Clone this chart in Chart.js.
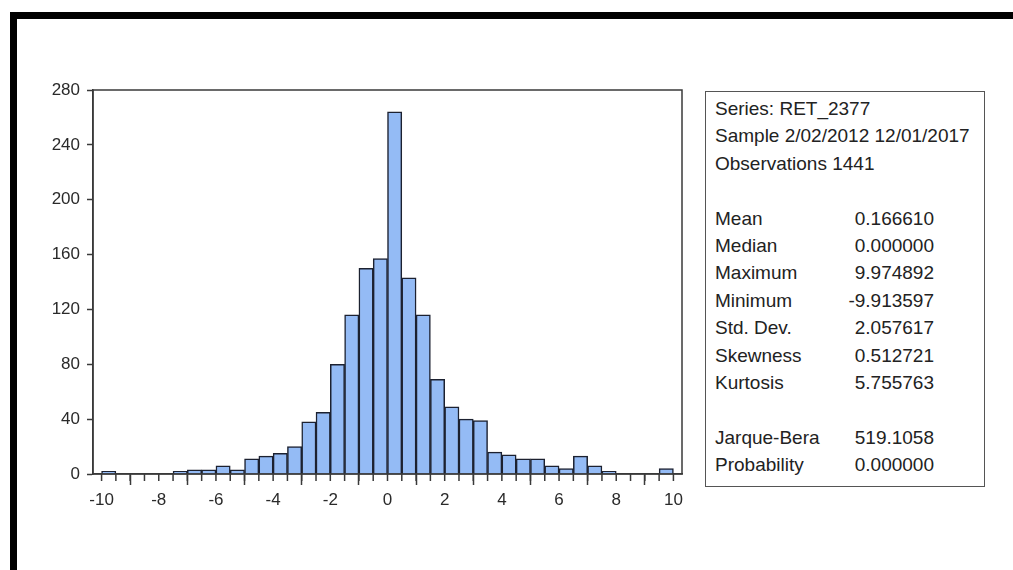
<!DOCTYPE html>
<html>
<head>
<meta charset="utf-8">
<script src="https://cdn.jsdelivr.net/npm/chart.js@4/dist/chart.umd.min.js"></script>
<style>
  html, body { margin: 0; padding: 0; background: #fff; }
  body { width: 1013px; height: 570px; position: relative; overflow: hidden; font-family: "Liberation Sans", Arial, sans-serif; }
  #frame { position: absolute; left: 10px; top: 12px; right: 0; bottom: 0; border-left: 7px solid #000; border-top: 7px solid #000; }
  #wrap { position: absolute; left: 20px; top: 70px; width: 680px; height: 450px; }
  #stats { position: absolute; left: 705px; top: 91px; width: 280px; height: 394px; border: 1.5px solid #555; color: #222; font-size: 19px; }
  #stats .row { position: relative; height: 27.4px; line-height: 27.4px; padding-left: 9px; white-space: nowrap; }
  #stats .val { position: absolute; right: 50px; top: 0; }
</style>
</head>
<body>
<div id="frame"></div>
<div id="wrap"><canvas id="hist"></canvas></div>
<div id="stats"></div>

<script>
// histogram bins (width 0.5), centres of each bin
const binCenters = [-9.75, -9.25, -8.75, -8.25, -7.75, -7.25, -6.75, -6.25, -5.75, -5.25,
                    -4.75, -4.25, -3.75, -3.25, -2.75, -2.25, -1.75, -1.25, -0.75, -0.25,
                     0.25,  0.75,  1.25,  1.75,  2.25,  2.75,  3.25,  3.75,  4.25,  4.75,
                     5.25,  5.75,  6.25,  6.75,  7.25,  7.75,  8.25,  8.75,  9.25,  9.75];
const counts = [2, 0, 0, 0, 0, 2, 3, 3, 6, 3,
                11, 13, 15, 20, 38, 45, 80, 116, 150, 157,
                264, 143, 116, 69, 49, 40, 39, 16, 14, 11,
                11, 6, 4, 13, 6, 2, 0, 0, 0, 4];
const binEdges = [-10, -9.5, -9, -8.5, -8, -7.5, -7, -6.5, -6, -5.5, -5, -4.5, -4, -3.5, -3, -2.5, -2, -1.5, -1, -0.5,
                  0, 0.5, 1, 1.5, 2, 2.5, 3, 3.5, 4, 4.5, 5, 5.5, 6, 6.5, 7, 7.5, 8, 8.5, 9, 9.5, 10];
const xTicks = [-10, -8, -6, -4, -2, 0, 2, 4, 6, 8, 10];
const yTicks = [0, 40, 80, 120, 160, 200, 240, 280];

const headerLines = ["Series: RET_2377", "Sample 2/02/2012 12/01/2017", "Observations 1441"];
const statNames = ["Mean", "Median", "Maximum", "Minimum", "Std. Dev.", "Skewness", "Kurtosis"];
const statValues = ["0.166610", "0.000000", "9.974892", "-9.913597", "2.057617", "0.512721", "5.755763"];
const testNames = ["Jarque-Bera", "Probability"];
const testValues = ["519.1058", "0.000000"];

// stats panel
const box = document.getElementById("stats");
function addRow(label, value) {
  const r = document.createElement("div");
  r.className = "row";
  r.textContent = label;
  if (value !== undefined) {
    const v = document.createElement("span");
    v.className = "val";
    v.textContent = value;
    r.appendChild(v);
  }
  box.appendChild(r);
}
box.style.paddingTop = "3px";
box.style.boxSizing = "border-box";
box.style.height = "396px";
headerLines.forEach(l => addRow(l));
addRow("\u00a0");
statNames.forEach((n, i) => addRow(n, statValues[i]));
addRow("\u00a0");
testNames.forEach((n, i) => addRow(n, testValues[i]));

const axisColor = "#3a3a3a";
const textColor = "#2a2a2a";

// plot frame + minor ticks on x axis
const framePlugin = {
  id: "frame",
  afterDraw(chart) {
    const { ctx, chartArea: a, scales } = chart;
    ctx.save();
    ctx.strokeStyle = axisColor;
    ctx.lineWidth = 1.5;
    ctx.strokeRect(a.left, a.top, a.right - a.left, a.bottom - a.top);
    ctx.beginPath();
    binEdges.forEach(v => {
      const px = scales.x.getPixelForValue(v);
      ctx.moveTo(px, a.bottom);
      ctx.lineTo(px, a.bottom + 7);
    });
    ctx.stroke();
    ctx.restore();
  }
};

new Chart(document.getElementById("hist"), {
  type: "bar",
  data: {
    datasets: [{
      data: binCenters.map((c, i) => ({ x: c, y: counts[i] })),
      backgroundColor: "#94bbf5",
      borderColor: "#1c2130",
      borderWidth: 1.5,
      barPercentage: 1,
      categoryPercentage: 1
    }]
  },
  options: {
    responsive: true,
    maintainAspectRatio: false,
    animation: false,
    layout: { padding: { top: 20, right: 18, bottom: 0, left: 0 } },
    plugins: { legend: { display: false }, tooltip: { enabled: false } },
    scales: {
      x: {
        type: "linear",
        offset: false,
        min: -10.3,
        max: 10.3,
        afterBuildTicks: s => { s.ticks = xTicks.map(v => ({ value: v })); },
        afterFit: s => { s.height = 46; },
        grid: { drawOnChartArea: false, tickLength: 11, tickColor: axisColor, tickWidth: 1.5 },
        border: { color: axisColor, width: 1.5 },
        ticks: { color: textColor, font: { family: "Liberation Sans", size: 17 }, padding: 5, maxRotation: 0 }
      },
      y: {
        min: 0,
        max: 280,
        afterBuildTicks: s => { s.ticks = yTicks.map(v => ({ value: v })); },
        afterFit: s => { s.width = 73; },
        grid: { drawOnChartArea: false, tickLength: 6, tickColor: axisColor, tickWidth: 1.5 },
        border: { color: axisColor, width: 1.5 },
        ticks: { color: textColor, font: { family: "Liberation Sans", size: 17 }, padding: 7 }
      }
    }
  },
  plugins: [framePlugin]
});
</script>
</body>
</html>
